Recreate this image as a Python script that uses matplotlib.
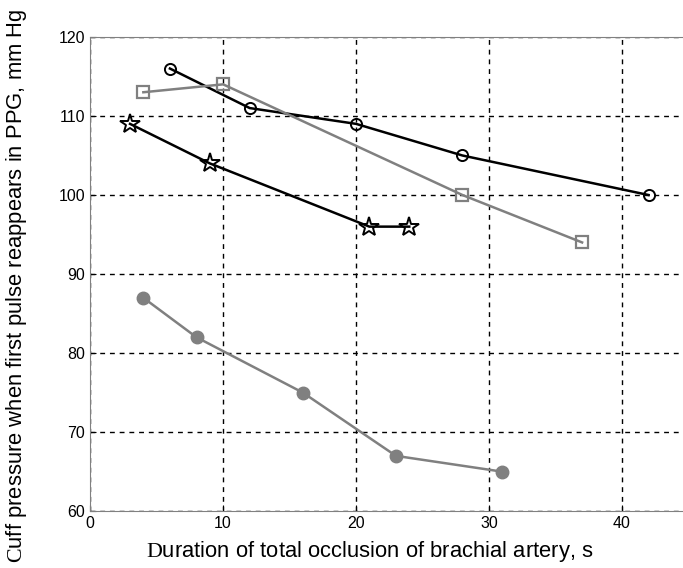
import matplotlib
matplotlib.use("Agg")
import matplotlib.pyplot as plt

# series
circ_x = [6, 12, 20, 28, 42]
circ_y = [116, 111, 109, 105, 100]
sq_x = [4, 10, 28, 37]
sq_y = [113, 114, 100, 94]
star_x = [3, 9, 21, 24]
star_y = [109, 104, 96, 96]
dot_x = [4, 8, 16, 23, 31]
dot_y = [87, 82, 75, 67, 65]

XTICKS = [0, 10, 20, 30, 40]
YTICKS = [60, 70, 80, 90, 100, 110, 120]

GRAY = "#808080"

# first letter of each axis label is serif in the original
plt.rcParams["mathtext.fontset"] = "custom"
plt.rcParams["mathtext.rm"] = "Liberation Serif"

fig = plt.figure(figsize=(6.83, 5.68), dpi=100)
ax = fig.add_axes([0.132, 0.100, 0.876, 0.835])

ax.plot(circ_x, circ_y, color="black", lw=1.8, marker="o", ms=8,
        mfc="none", mec="black", mew=1.4)
ax.plot(sq_x, sq_y, color=GRAY, lw=1.8, marker="s", ms=9,
        mfc="none", mec=GRAY, mew=1.6)
ax.plot(star_x, star_y, color="black", lw=1.8, marker="*", ms=15,
        mfc="none", mec="black", mew=1.4)
ax.plot(dot_x, dot_y, color=GRAY, lw=1.8, marker="o", ms=9,
        mfc=GRAY, mec=GRAY)

ax.set_xlim(0, 45)
ax.set_ylim(60, 120)
ax.set_xticks(XTICKS)
ax.set_yticks(YTICKS)
ax.grid(True, color="black", linestyle=(0, (3.5, 3.5)), linewidth=1.0)
ax.tick_params(direction="in", length=4, labelsize=11.5, colors="black")
for lab in ax.get_xticklabels() + ax.get_yticklabels():
    lab.set_family("Liberation Sans")
for s in ax.spines.values():
    s.set_color(GRAY)

ax.set_xlabel(r"$\mathrm{D}$uration of total occlusion of brachial artery, s",
              fontsize=15.8, family="Liberation Sans")
ax.set_ylabel(r"$\mathrm{C}$uff pressure when first pulse reappears in PPG, mm Hg",
              fontsize=15.8, family="Liberation Sans")
ax.xaxis.set_label_coords(0.468, -0.058)
ax.yaxis.set_label_coords(-0.102, 0.475)

fig.savefig("out.png", dpi=100)
